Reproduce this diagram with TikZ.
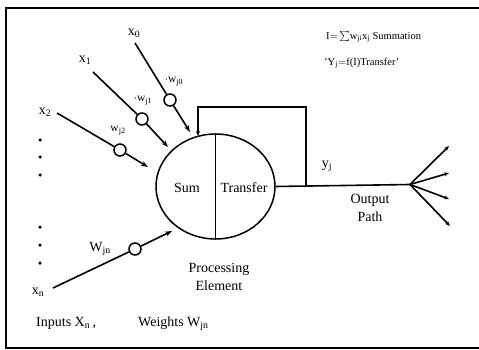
\documentclass[tikz,border=0pt]{standalone}
\usepackage{fontspec}
\setmainfont{Liberation Serif}
\usetikzlibrary{arrows.meta,shapes.geometric}
\begin{document}
\begin{tikzpicture}[x=1pt,y=-1pt,
  lbl/.style={inner sep=0pt, font=\fontsize{14}{16}\selectfont},
  sml/.style={inner sep=0pt, font=\fontsize{11.5}{13}\selectfont},
  frm/.style={inner sep=0pt, font=\fontsize{10.5}{12}\selectfont},
  wt/.style={circle, draw, line width=1.5pt, minimum size=12pt, inner sep=0pt},
  conn/.style={line width=1.6pt},
  arr/.style={line width=1.6pt, -{Stealth[length=7pt,width=5pt]}},
  fanarr/.style={line width=1.6pt, -{Stealth[length=5pt,width=4pt]}},
  dotn/.style={circle, fill, inner sep=0pt, minimum size=3.5pt}]
\useasboundingbox (0,0) rectangle (479,350);
\draw[line width=1.6pt] (480,8) -- (6,8) -- (6,348) -- (480,348);

% processing element
\node[draw, ellipse, line width=1.5pt, minimum width=119pt, minimum height=105pt, inner sep=0pt] (pe) at (215.5,186.5) {};
\draw[line width=1.5pt] (pe.north) -- (pe.south);
\node[lbl] (sum) at (187,188) {Sum};
\node[lbl] (tr) at (244,188) {Transfer};
\node[lbl, align=center] (proc) at (219,277) {Processing\\[2pt]Element};

% inputs
\node[lbl] (lx0) at (134,33) {x\textsubscript{0}};
\node[lbl] (lx1) at (85,60) {x\textsubscript{1}};
\node[lbl] (lx2) at (45,112) {x\textsubscript{2}};
\node[lbl] (lxn) at (38,292) {x\textsubscript{n}};
\coordinate (s0) at (135,43);
\coordinate (s1) at (93,72);
\coordinate (s2) at (57,113);
\coordinate (sn) at (53,288);
\node[wt] (w0) at (170,100) {};
\node[wt] (w1) at (142,119) {};
\node[wt] (w2) at (120,150) {};
\node[wt] (wn) at (135,249) {};
\coordinate (t0) at (190,132);
\coordinate (t1) at (168,147);
\coordinate (t2) at (148,167);
\coordinate (tn) at (172,231);
\draw[conn] (s0) -- (w0); \draw[arr] (w0) -- (t0);
\draw[conn] (s1) -- (w1); \draw[arr] (w1) -- (t1);
\draw[conn] (s2) -- (w2); \draw[arr] (w2) -- (t2);
\draw[conn] (sn) -- (wn); \draw[arr] (wn) -- (tn);

\node[sml] (lw0) at (174,82) {$\cdot$w\textsubscript{j0}};
\node[sml] (lw1) at (143,101) {$\cdot$w\textsubscript{j1}};
\node[sml] (lw2) at (118,131) {w\textsubscript{j2}};
\node[lbl] (lwn) at (100,249) {W\textsubscript{jn}};

\foreach \i/\y in {1/140,2/157,3/175,4/227,5/245,6/263}
  \node[dotn] (d\i) at (40,\y) {};

% formulas
\node[frm, anchor=west] (f1) at (326,37) {I$=\!\textstyle\sum$w\textsubscript{ji}x\textsubscript{j} Summation};
\node[frm, anchor=west] (f2) at (324,63) {\textquoteright Y\textsubscript{j}$=$f(I)Transfer\textquoteright};

% output
\coordinate (fan) at (410,184.5);
\draw[conn] (pe.east) -- (fan);
\node[lbl] (yj) at (327,166) {y\textsubscript{j}};
\node[lbl, align=center] (outp) at (370,208) {Output\\[2pt]Path};
\coordinate (o1) at (449,146);
\coordinate (o2) at (449,173);
\coordinate (o3) at (449,199);
\coordinate (o4) at (450,226);
\foreach \o in {o1,o2,o3,o4} \draw[fanarr] (fan) -- (\o);

% feedback
\coordinate (fb1) at (306,184.5);
\coordinate (fb2) at (306,107);
\coordinate (fb3) at (198,107);
\coordinate (fb4) at (198,136);
\draw[line width=1.5pt, -{Stealth[length=5pt,width=4pt]}] (fb1) -- (fb2) -- (fb3) -- (fb4);

% bottom labels
\node[lbl, anchor=west] (inl) at (36,323) {Inputs X\textsubscript{n}\,,};
\node[lbl, anchor=west] (wtl) at (138,324) {Weights W\textsubscript{jn}};
\end{tikzpicture}
\end{document}
